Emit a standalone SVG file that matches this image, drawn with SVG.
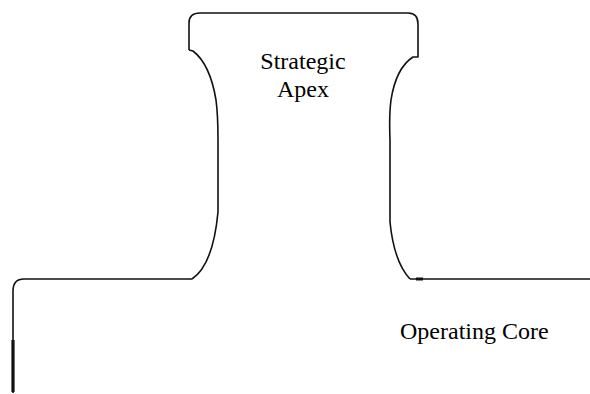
<svg xmlns="http://www.w3.org/2000/svg" width="590" height="394" viewBox="0 0 590 394">
  <style>
    .outline { fill: none; stroke: #111; stroke-width: 1.6; stroke-linejoin: round; }
    .label { font-family: "Liberation Serif", "Times New Roman", serif; font-size: 24px; fill: #000; }
  </style>
  <rect width="590" height="394" fill="#fff"/>
  <g id="strategic-apex">
    <!-- cap of the apex with its two flared sides -->
    <path class="outline" d="M189,50 L189,23 Q189,13 200,13 L408,13 Q418,13 418,24 L418,57 L413,57 Q396,68 391,100 Q389,115 390,140 L390,222 Q394,262 410,279"/>
    <path class="outline" d="M189,50 L193,51 Q210,64 216,100 Q218,115 218,140 L218,212 Q213,265 192,279"/>
    <text class="label" x="303" y="69" text-anchor="middle">Strategic</text>
    <text class="label" x="303" y="97" text-anchor="middle">Apex</text>
  </g>
  <g id="operating-core">
    <path class="outline" d="M192,279 L24,279 Q13,279 13,291 L13,393"/>
    <line x1="13" y1="340" x2="13" y2="392" stroke="#111" stroke-width="3.2"/>
    <path class="outline" d="M410,279 L590,279"/>
    <line x1="416" y1="279" x2="423" y2="279" stroke="#111" stroke-width="3"/>
    <text class="label" x="400" y="339">Operating Core</text>
  </g>
</svg>
